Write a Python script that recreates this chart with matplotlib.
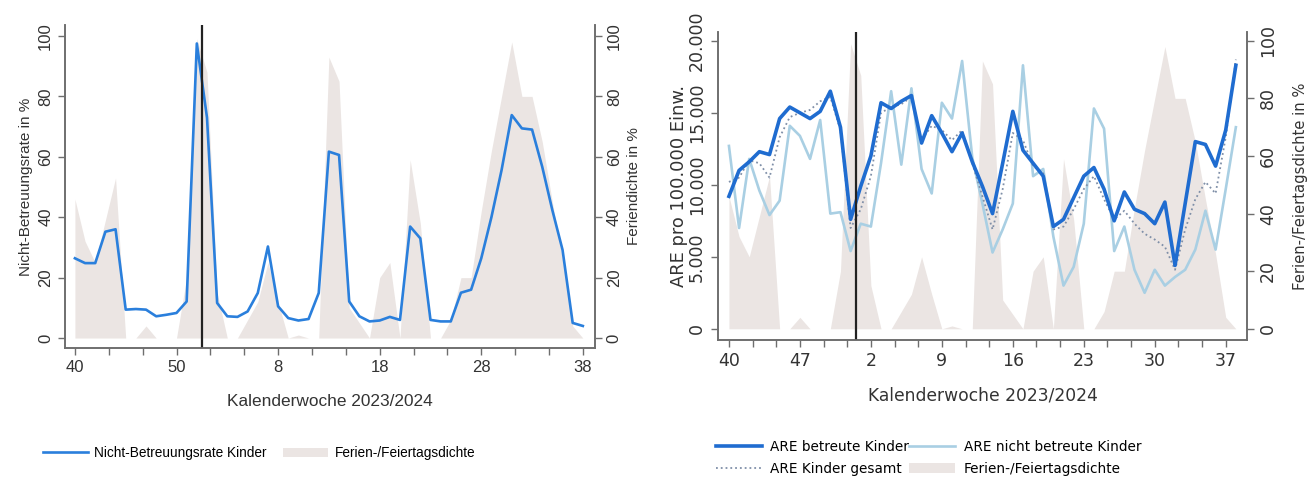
import numpy as np
import matplotlib.pyplot as plt
from matplotlib.lines import Line2D
from matplotlib.patches import Patch

# Calendar weeks 40/2023 .. 38/2024
weeks = list(range(40, 53)) + list(range(1, 39))

# holiday density in % (same series in both panels)
holiday = [46, 32, 25, 39, 53, 0, 0, 4, 0, 0, 0, 20, 99, 88, 15, 0, 0, 6, 12, 25,
           12, 0, 1, 0, 0, 93, 85, 10, 5, 0, 20, 25, 0, 59, 38, 0, 0, 6, 20, 20,
           42, 62, 80, 98, 80, 80, 65, 45, 26, 4, 0]

# non-attendance rate of children in %
non_care = [26.4, 24.8, 24.8, 35.2, 36.0, 9.4, 9.6, 9.4, 7.2, 7.7, 8.3, 12.1, 97.5,
            73.0, 11.6, 7.2, 7.0, 8.8, 14.9, 30.3, 10.5, 6.6, 5.8, 6.3, 14.9, 61.7,
            60.6, 12.1, 7.2, 5.5, 5.8, 7.0, 6.0, 36.9, 33.0, 6.0, 5.5, 5.5, 15.0, 16.0,
            26.4, 40.0, 55.6, 73.8, 69.4, 69.0, 56.7, 42.3, 29.2, 5.0, 4.0]

# ARE per 100.000 inhabitants
are_cared = [9200, 11000, 11600, 12300, 12100, 14600, 15400, 15000, 14600, 15100,
             16500, 14000, 7600, 9900, 12000, 15700, 15300, 15800, 16200, 12900,
             14800, 13600, 12300, 13600, 11600, 9900, 8000, 11500, 15100, 12400,
             11500, 10600, 7100, 7600, 9100, 10600, 11200, 9700, 7500, 9500,
             8300, 8000, 7300, 8800, 4400, 8700, 13000, 12800, 11300, 13800, 18300]
are_not_cared = [12700, 7000, 11800, 9600, 7900, 8900, 14100, 13400, 11800, 14500,
                 8000, 8100, 5400, 7300, 7100, 11500, 16500, 11400, 16700, 11100,
                 9400, 15700, 14600, 18600, 11900, 8700, 5300, 6900, 8700, 18300,
                 10600, 11100, 6400, 3000, 4300, 7300, 15300, 13900, 5400, 7100,
                 4100, 2500, 4100, 3000, 3600, 4100, 5500, 8200, 5500, 9700, 14000]
are_total = [10200, 10500, 11700, 11500, 10500, 13300, 14700, 15000, 15200, 15800,
             16100, 13800, 7000, 8300, 10600, 15000, 15400, 15600, 16100, 13100,
             14100, 13800, 13100, 13800, 11500, 9200, 6900, 9700, 13600, 13100,
             11300, 10800, 6900, 7100, 8300, 9700, 10600, 9000, 7600, 8200,
             7300, 6600, 6200, 5700, 4100, 6900, 9000, 10200, 9400, 13300, 18700]

left_ticks = [0, 10, 20, 30, 40, 50]
left_ticklabels = ['40', '50', '8', '18', '28', '38']
right_ticks = [0, 7, 14, 21, 28, 35, 42, 49]
right_ticklabels = ['40', '47', '2', '9', '16', '23', '30', '37']
are_yticks = [0, 5000, 10000, 15000, 20000]
are_yticklabels = ['0', '5.000', '10.000', '15.000', '20.000']
pct_ticks = [0, 20, 40, 60, 80, 100]

x = np.arange(len(weeks))
year_break = 12.5
fill_col = '#ebe5e3'
spine_col = '#6e6e6e'
txt_col = '#333333'


def style_frame(ax, ax2, major, minor_step, labels, fontsize):
    for a in (ax, ax2):
        a.spines['top'].set_visible(False)
        for s in ('left', 'right', 'bottom'):
            a.spines[s].set_color(spine_col)
            a.spines[s].set_linewidth(1.2)
    ax.set_xticks(major)
    ax.set_xticklabels(labels, fontsize=fontsize)
    ax.set_xticks(np.arange(0, 51, minor_step), minor=True)
    ax.tick_params(axis='x', which='both', direction='out', colors=spine_col,
                   labelcolor=txt_col, length=5, width=1)
    ax.tick_params(axis='y', direction='out', colors=spine_col, labelcolor=txt_col,
                   length=5, width=1, labelsize=fontsize)
    ax2.tick_params(axis='y', direction='out', colors=spine_col, labelcolor=txt_col,
                    length=5, width=1, labelsize=fontsize)
    plt.setp(ax.get_yticklabels(), rotation=90, va='center')
    plt.setp(ax2.get_yticklabels(), rotation=90, va='center')
    ax.set_zorder(ax2.get_zorder() + 1)
    ax.patch.set_visible(False)


fig = plt.figure(figsize=(13.15, 4.82), dpi=100)

# ---------------- left panel ----------------
lfont = 'Liberation Sans'
ax1 = fig.add_axes([0.0494, 0.278, 0.4031, 0.670])
ax1b = ax1.twinx()
ax1b.fill_between(x, holiday, 0, color=fill_col, lw=0)
ax1.plot(x, non_care, color='#2a7fdc', lw=1.9)
ax1.axvline(year_break, color='#222222', lw=1.6)
ax1.set_xlim(-0.98, 51.2)
ax1.set_ylim(-3.3, 103.6)
ax1b.set_ylim(-3.3, 103.6)
ax1.set_yticks(pct_ticks)
ax1b.set_yticks(pct_ticks)
style_frame(ax1, ax1b, left_ticks, 10 / 3, left_ticklabels, 12)
for t in ax1.get_xticklabels() + ax1.get_yticklabels() + ax1b.get_yticklabels():
    t.set_family(lfont)
ax1.set_xlabel('Kalenderwoche 2023/2024', fontsize=12.4, family=lfont, labelpad=14, color=txt_col)
ax1.set_ylabel('Nicht-Betreuungsrate in %', fontsize=11, family=lfont, color=txt_col)
ax1b.set_ylabel('Feriendichte in %', fontsize=11, family=lfont, color=txt_col)

fig.legend(handles=[Line2D([], [], color='#2a7fdc', lw=1.9),
                    Patch(facecolor=fill_col, edgecolor='none')],
           labels=['Nicht-Betreuungsrate Kinder', 'Ferien-/Feiertagsdichte'],
           loc='center', bbox_to_anchor=(0.197, 0.06), ncol=2, frameon=False,
           prop={'family': lfont, 'size': 9.8}, handlelength=3.3,
           handletextpad=0.5, columnspacing=1.2)

# ---------------- right panel ----------------
ax2 = fig.add_axes([0.546, 0.295, 0.4023, 0.639])
ax2b = ax2.twinx()
ax2b.fill_between(x, holiday, 0, color=fill_col, lw=0)
ax2.plot(x, are_not_cared, color='#a9cfe3', lw=1.9)
ax2.plot(x, are_total, color='#7f8fa8', lw=1.3, ls=':')
ax2.plot(x, are_cared, color='#1f6cd0', lw=2.6)
ax2.axvline(year_break, color='#222222', lw=1.6)
ax2.set_xlim(-1.08, 51.1)
ax2.set_ylim(-764, 20625)
ax2b.set_ylim(-3.82, 103.1)
ax2.set_yticks(are_yticks)
ax2.set_yticklabels(are_yticklabels)
ax2b.set_yticks(pct_ticks)
style_frame(ax2, ax2b, right_ticks, 7 / 3, right_ticklabels, 12.5)
ax2.set_xlabel('Kalenderwoche 2023/2024', fontsize=12.3, labelpad=12, color=txt_col)
ax2.set_ylabel('ARE pro 100.000 Einw.', fontsize=12.9, color=txt_col, labelpad=0)
ax2b.set_ylabel('Ferien-/Feiertagsdichte in %', fontsize=10.6, color=txt_col, labelpad=12)

fig.legend(handles=[Line2D([], [], color='#1f6cd0', lw=2.6),
                    Line2D([], [], color='#7f8fa8', lw=1.3, ls=':'),
                    Line2D([], [], color='#a9cfe3', lw=1.9),
                    Patch(facecolor=fill_col, edgecolor='none')],
           labels=['ARE betreute Kinder', 'ARE Kinder gesamt',
                   'ARE nicht betreute Kinder', 'Ferien-/Feiertagsdichte'],
           loc='center', bbox_to_anchor=(0.706, 0.05), ncol=2, frameon=False,
           prop={'size': 9.8}, handlelength=3.4, columnspacing=0.0,
           labelspacing=0.55, handletextpad=0.6)

fig.savefig('out.png', dpi=100)
